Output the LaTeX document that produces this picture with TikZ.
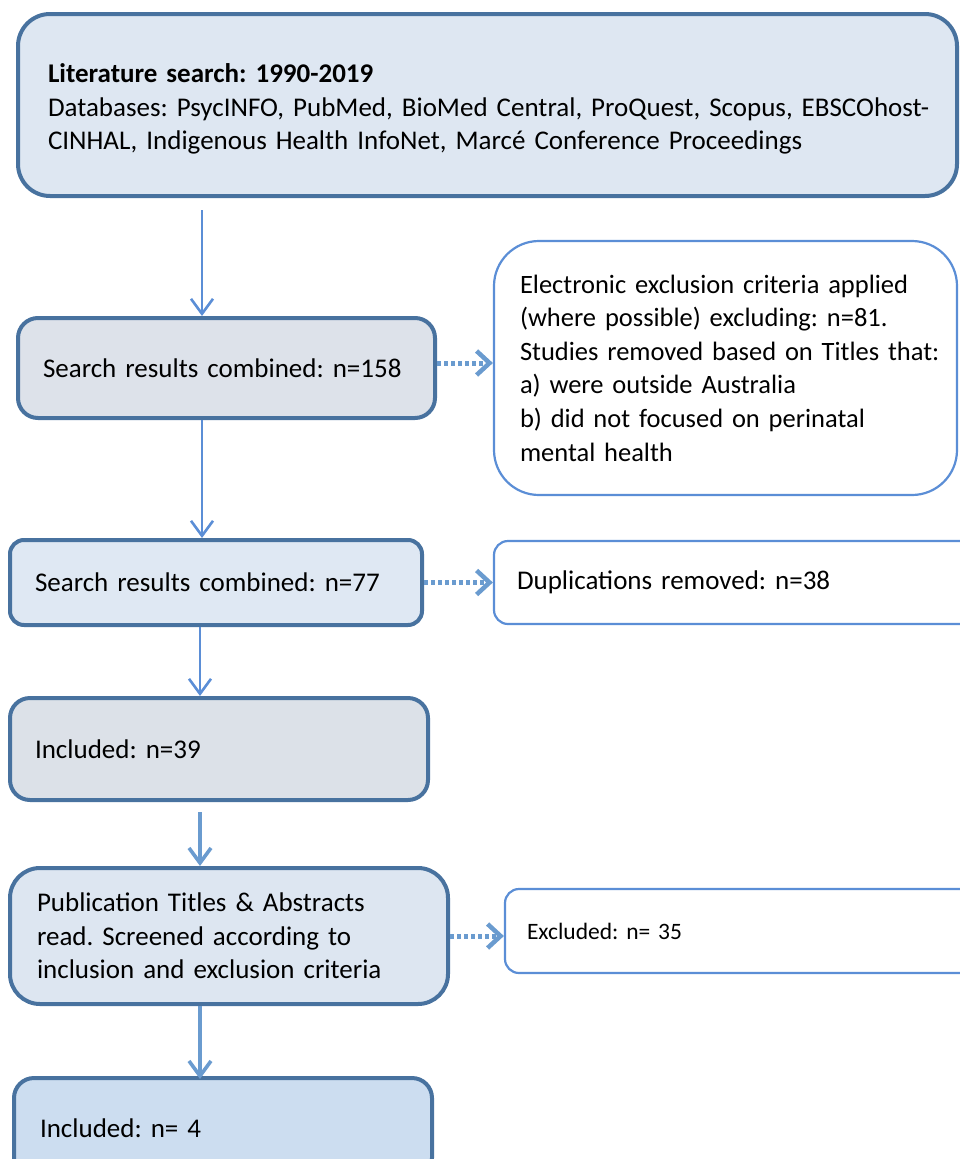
\documentclass[tikz,border=0pt]{standalone}
\usepackage{fontspec}
\setmainfont{Carlito}
\frenchspacing
\usetikzlibrary{arrows.meta}
\definecolor{darkb}{HTML}{48729F}
\definecolor{lightb}{HTML}{5B8ED6}
\definecolor{arrb}{HTML}{5B8ED6}
\definecolor{arrthick}{HTML}{6A9BCF}
\definecolor{fillA}{HTML}{DEE7F2}
\definecolor{fillG}{HTML}{DDE2EA}
\definecolor{fillC}{HTML}{DFE8F3}
\definecolor{fillD}{HTML}{DCE1E8}
\definecolor{fillE}{HTML}{DDE6F1}
\definecolor{fillF}{HTML}{CCDDF0}
\tikzset{
  mainbox/.style={draw=darkb, line width=4pt, align=left, inner ysep=0pt,
    font=\frenchspacing\fontsize{27}{33.5}\selectfont},
  sidebox/.style={draw=lightb, line width=2.2pt, fill=white, align=left, inner ysep=0pt,
    font=\frenchspacing\fontsize{26.5}{33.6}\selectfont},
  thinarr/.style={draw=arrb, line width=1.6pt, -{Straight Barb[length=15pt,width=22pt,line width=2.6pt]}},
  thickarr/.style={draw=arrthick, line width=3.2pt, -{Straight Barb[length=15pt,width=22pt,line width=3.6pt]}},
  dotarr/.style={draw=arrthick, line width=5pt, dash pattern=on 4pt off 3pt,
    -{Straight Barb[length=13pt,width=24pt,line width=4.5pt]}}
}
\begin{document}
\begin{tikzpicture}[x=1pt,y=-1pt]
\useasboundingbox (0,0) rectangle (959,1159);
\node[mainbox, fill=fillA, rounded corners=32pt, minimum width=939pt, minimum height=182pt,
  text width=879pt, inner xsep=30pt] (top) at (487.5,105)
  {\mbox{\rule{0pt}{27pt}\textbf{Literature search: 1990-2019}}\\
   \mbox{Databases: PsycINFO, PubMed, BioMed Central, ProQuest, Scopus, EBSCOhost-}\\
   \mbox{CINHAL, Indigenous Health InfoNet, Marcé Conference Proceedings}};
\node[mainbox, fill=fillG, rounded corners=20pt, minimum width=417pt, minimum height=100pt,
  text width=367pt, inner xsep=25pt] (b2) at (226.5,368) {\mbox{Search results combined: n=158}};
\node[sidebox, rounded corners=45pt, minimum width=463pt, minimum height=254pt,
  text width=411pt, inner xsep=26pt] (r1) at (725.5,368)
  {\mbox{Electronic exclusion criteria applied}\\
   \mbox{(where possible) excluding: n=81.}\\
   \mbox{Studies removed based on Titles that:}\\
   \mbox{a) were outside Australia}\\
   \mbox{b) did not focused on perinatal}\\
   \mbox{mental health}};
\node[mainbox, fill=fillC, rounded corners=14pt, minimum width=412pt, minimum height=85pt,
  text width=362pt, inner xsep=25pt] (b3) at (216,582.5) {\mbox{Search results combined: n=77}};
\node[sidebox, rounded corners=14pt, minimum width=481pt, minimum height=83pt,
  text width=435pt, inner xsep=23pt, font=\frenchspacing\fontsize{27}{33}\selectfont] (r2) at (734.5,582.5) {\mbox{Duplications removed: n=38}};
\node[mainbox, fill=fillD, rounded corners=20pt, minimum width=418pt, minimum height=102pt,
  text width=368pt, inner xsep=25pt] (b4) at (219,749) {\mbox{Included: n=39}};
\node[mainbox, fill=fillE, rounded corners=30pt, minimum width=438pt, minimum height=136pt,
  text width=384pt, inner xsep=27pt] (b5) at (229,936)
  {\mbox{Publication Titles \& Abstracts}\\
   \mbox{read. Screened according to}\\
   \mbox{inclusion and exclusion criteria}};
\node[sidebox, rounded corners=14pt, minimum width=470pt, minimum height=84pt,
  text width=426pt, inner xsep=22pt, font=\frenchspacing\fontsize{23.5}{28}\selectfont] (r3) at (740,931) {\mbox{Excluded: n= 35}};
\node[mainbox, fill=fillF, rounded corners=20pt, minimum width=418pt, minimum height=100pt,
  text width=366pt, inner xsep=26pt] (b6) at (223,1128) {\mbox{Included: n= 4}};
\coordinate (ax) at (202,0);
\coordinate (bx) at (200,0);
\draw[thinarr, shorten <=12pt] (top.south -| ax) -- (b2.north -| ax);
\draw[thinarr] (b2.south -| ax) -- (b3.north -| ax);
\draw[thinarr] (b3.south -| bx) -- (b4.north -| bx);
\draw[thickarr, shorten <=10pt] (b4.south -| bx) -- (b5.north -| bx);
\draw[thickarr] (b5.south -| bx) -- ([yshift=-3pt]b6.north -| bx);
\draw[dotarr] ([yshift=5pt]b2.east) -- ([yshift=5pt]b2.east -| r1.west);
\draw[dotarr] (b3.east) -- (b3.east -| r2.west);
\draw[dotarr] (b5.east) -- (b5.east -| r3.west);
\end{tikzpicture}
\end{document}
